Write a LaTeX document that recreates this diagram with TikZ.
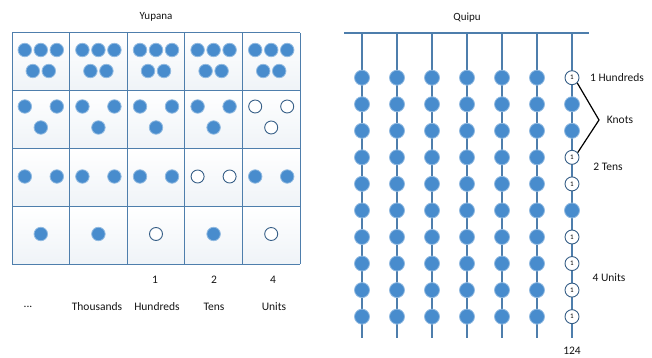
\documentclass[tikz,border=0pt]{standalone}
\usepackage{fontspec}
\setmainfont{Carlito}
\definecolor{dotblue}{RGB}{72,140,205}
\definecolor{gridblue}{RGB}{78,126,172}
\definecolor{ringblue}{RGB}{55,95,135}
\definecolor{txt}{RGB}{20,20,20}
\begin{document}
\begin{tikzpicture}[x=1pt,y=-1pt,
  bead/.style={circle,fill=dotblue,draw=dotblue!60,line width=0.8pt,minimum size=13.5pt,inner sep=0pt},
  qbead/.style={circle,fill=dotblue,draw=dotblue!60,line width=0.8pt,minimum size=15pt,inner sep=0pt},
  ring/.style={circle,draw=ringblue,fill=white,line width=0.9pt,minimum size=13pt,inner sep=0pt},
  qring/.style={circle,draw=ringblue,fill=white,line width=0.9pt,minimum size=14pt,inner sep=0pt,font=\fontsize{7}{7}\selectfont},
  lbl/.style={text=txt,font=\fontsize{11.5}{12}\selectfont,inner sep=0pt},
  ttl/.style={text=txt,font=\fontsize{11}{12}\selectfont,inner sep=0pt},
  gridline/.style={draw=gridblue,line width=1pt},
  cord/.style={draw=gridblue,line width=1.3pt}]
\useasboundingbox (0,0) rectangle (652,358);
% ---------------- Yupana ----------------
\node[ttl] (ytitle) at (156,17) {Yupana};
\foreach \i in {0,...,4}{
  \foreach \j in {0,...,3}{
    \shade[top color=white,bottom color=gridblue!9]
      ({12+57.6*\i},{33+57.75*\j}) rectangle ({12+57.6*(\i+1)},{33+57.75*(\j+1)});
  }
}
\foreach \i in {0,...,5}{ \draw[gridline] ({12+57.6*\i},33) -- ({12+57.6*\i},264); }
\foreach \j in {0,...,4}{ \draw[gridline] (12,{33+57.75*\j}) -- (300,{33+57.75*\j}); }
% row 1: five beads in every column
\foreach \i in {0,...,4}{
  \pgfmathsetmacro{\cx}{40.8+57.6*\i}
  \node[bead] (a\i a) at (\cx-16,50) {};
  \node[bead] (a\i b) at (\cx,50) {};
  \node[bead] (a\i c) at (\cx+16,50) {};
  \node[bead] (a\i d) at (\cx-8,71) {};
  \node[bead] (a\i e) at (\cx+8,71) {};
}
% row 2: three
\foreach \i/\s in {0/bead,1/bead,2/bead,3/bead,4/ring}{
  \pgfmathsetmacro{\cx}{40.8+57.6*\i}
  \node[\s] (b\i a) at (\cx-16,106.5) {};
  \node[\s] (b\i b) at (\cx+16,106.5) {};
  \node[\s] (b\i c) at (\cx,127.5) {};
}
% row 3: two
\foreach \i/\s in {0/bead,1/bead,2/bead,3/ring,4/bead}{
  \pgfmathsetmacro{\cx}{40.8+57.6*\i}
  \node[\s] (c\i a) at (\cx-16,176.5) {};
  \node[\s] (c\i b) at (\cx+16,176.5) {};
}
% row 4: one
\foreach \i/\s in {0/bead,1/bead,2/ring,3/bead,4/ring}{
  \pgfmathsetmacro{\cx}{40.8+57.6*\i}
  \node[\s] (d\i) at (\cx,234) {};
}
\node[lbl] (n1) at (155,280) {1};
\node[lbl] (n2) at (214,280) {2};
\node[lbl] (n4) at (273,280) {4};
\node[lbl] (ldots) at (28,307) {...};
\node[lbl] (lth) at (97,307) {Thousands};
\node[lbl] (lhu) at (157,307) {Hundreds};
\node[lbl] (lte) at (214,307) {Tens};
\node[lbl] (lun) at (274,307) {Units};
% ---------------- Quipu ----------------
\node[ttl] (qtitle) at (467,18) {Quipu};
\coordinate (barL) at (344,33);
\coordinate (barR) at (589,33);
\draw[cord] (barL) -- (barR);
\foreach \c in {0,...,6}{
  \coordinate (top\c) at ({362+35*\c},33);
  \coordinate (bot\c) at ({362+35*\c},338);
  \draw[cord] (top\c) -- (bot\c);
}
\foreach \c in {0,...,5}{
  \foreach \r in {0,...,9}{
    \node[qbead] (q\c-\r) at ({362+35*\c},{77.7+26.55*\r}) {};
  }
}
\foreach \r/\s/\t in {0/qring/1,1/qbead/,2/qbead/,3/qring/1,4/qring/1,5/qbead/,6/qring/1,7/qring/1,8/qring/1,9/qring/1}{
  \node[\s] (q6-\r) at (572,{77.7+26.55*\r}) {\t};
}
\coordinate (kv) at (599,120);
\draw[black,line width=1.2pt] (q6-0.-45) -- (kv) -- (q6-3.40);
\node[lbl] (lq1) at (617,78) {1 Hundreds};
\node[lbl] (lknots) at (620,120) {Knots};
\node[lbl] (lq2) at (608,167) {2 Tens};
\node[lbl] (lq4) at (609,278) {4 Units};
\node[lbl] (l124) at (572,350.5) {124};
\end{tikzpicture}
\end{document}
